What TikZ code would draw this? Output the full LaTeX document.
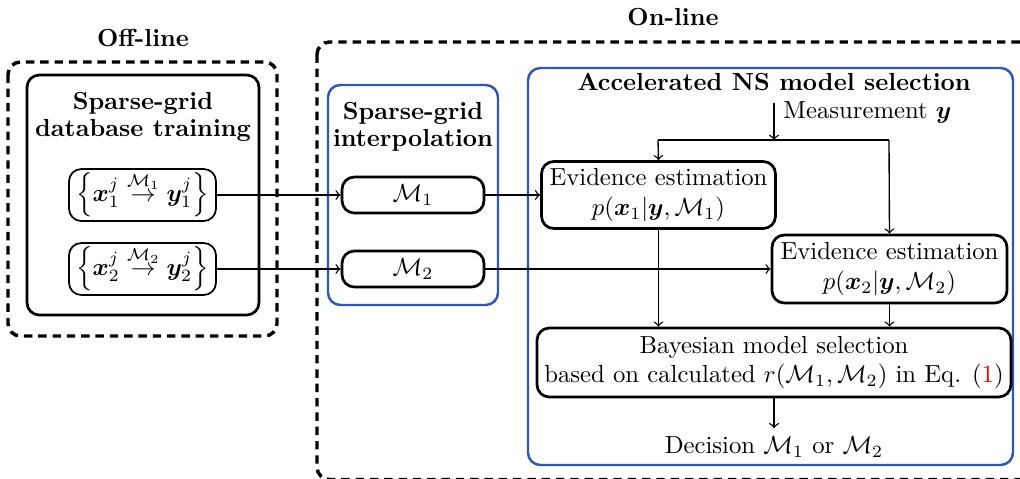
\documentclass[tikz,border=0pt]{standalone}
\usepackage{amsmath,bm}
\usetikzlibrary{calc}
\definecolor{boxblue}{RGB}{48,88,178}
\begin{document}
\begin{tikzpicture}[x=0.405pt,y=-0.405pt,
  dashbox/.style={draw,line width=1.4pt,dash pattern=on 3.4pt off 2.4pt,rounded corners=5pt},
  blackbox/.style={draw,line width=1.1pt,rounded corners=5pt},
  bluebox/.style={draw=boxblue,line width=1pt,rounded corners=5pt},
  procbox/.style={draw,line width=1.1pt,rounded corners=5pt,align=center,inner sep=0pt},
  thinbox/.style={procbox,line width=0.7pt},
  title/.style={font=\bfseries,align=center},
  conn/.style={line width=0.55pt},
  arr/.style={conn,->}
]
\useasboundingbox (0,0) rectangle (1020,478);
\clip (0,0) rectangle (1020,478);

% Off-line
\node[title] (offl) at (143,38) {Off-line};
\draw[dashbox] (8,62) rectangle (277,336);
\draw[blackbox] (27,75) rectangle (259,315);
\node[title] (sgdb) at (143,117) {Sparse-grid\\[-1pt]database training};
\node[thinbox,minimum width=147*0.405pt,minimum height=52*0.405pt] (x1) at (142.5,195)
  {$\left\{\bm{x}_1^j \overset{\mathcal{M}_1}{\rightarrow} \bm{y}_1^j\right\}$};
\node[thinbox,minimum width=147*0.405pt,minimum height=52*0.405pt] (x2) at (142.5,269)
  {$\left\{\bm{x}_2^j \overset{\mathcal{M}_2}{\rightarrow} \bm{y}_2^j\right\}$};

% On-line
\node[title] (onl) at (673,17) {On-line};
\draw[dashbox] (317,42) rectangle (1040,479.5);
\draw[bluebox] (328,85) rectangle (498,305);
\node[title] (sgi) at (413,127) {Sparse-grid\\[-1pt]interpolation};
\node[procbox,minimum width=142*0.405pt,minimum height=36*0.405pt] (M1) at (413,195) {$\mathcal{M}_1$};
\node[procbox,minimum width=142*0.405pt,minimum height=36*0.405pt] (M2) at (413,269) {$\mathcal{M}_2$};

\draw[bluebox] (528,68) rectangle (1013,465);
\node[title] (acc) at (774,82) {Accelerated NS model selection};
\node[anchor=west,inner sep=0pt] (meas) at (783,112) {Measurement $\bm{y}$};
\coordinate (mtop) at (774,103);
\coordinate (split) at (774,140);
\coordinate (L) at (658,140);
\coordinate (R) at (889,140);
\node[procbox,minimum width=234*0.405pt,minimum height=67*0.405pt] (E1) at (658.5,195)
  {Evidence estimation\\$p(\bm{x}_1|\bm{y},\mathcal{M}_1)$};
\node[procbox,minimum width=235*0.405pt,minimum height=68*0.405pt] (E2) at (889.5,269)
  {Evidence estimation\\$p(\bm{x}_2|\bm{y},\mathcal{M}_2)$};
\node[procbox,minimum width=474*0.405pt,minimum height=69*0.405pt] (B) at (774,362.5)
  {Bayesian model selection\\based on calculated $r(\mathcal{M}_1,\mathcal{M}_2)$ in Eq. (\textcolor{red}{1})};
\node[inner sep=0pt] (D) at (774,447) {Decision $\mathcal{M}_1$ or $\mathcal{M}_2$};

% connectors
\draw[arr] (x1) -- (M1);
\draw[arr] (x2) -- (M2);
\draw[arr] (M1) -- (E1);
\draw[arr] (M2) -- (E2);
\draw[arr] (mtop) -- (split);
\draw[conn] (L) -- (R);
\draw[arr] (L) -- (E1.north);
\draw[arr] (R) -- (E2.north);
\draw[arr] (E1.south) -- (E1.south |- B.north);
\draw[arr] (E2.south) -- (E2.south |- B.north);
\draw[arr] (B.south) -- ($(D.north)+(0,-8)$);
\end{tikzpicture}
\end{document}
